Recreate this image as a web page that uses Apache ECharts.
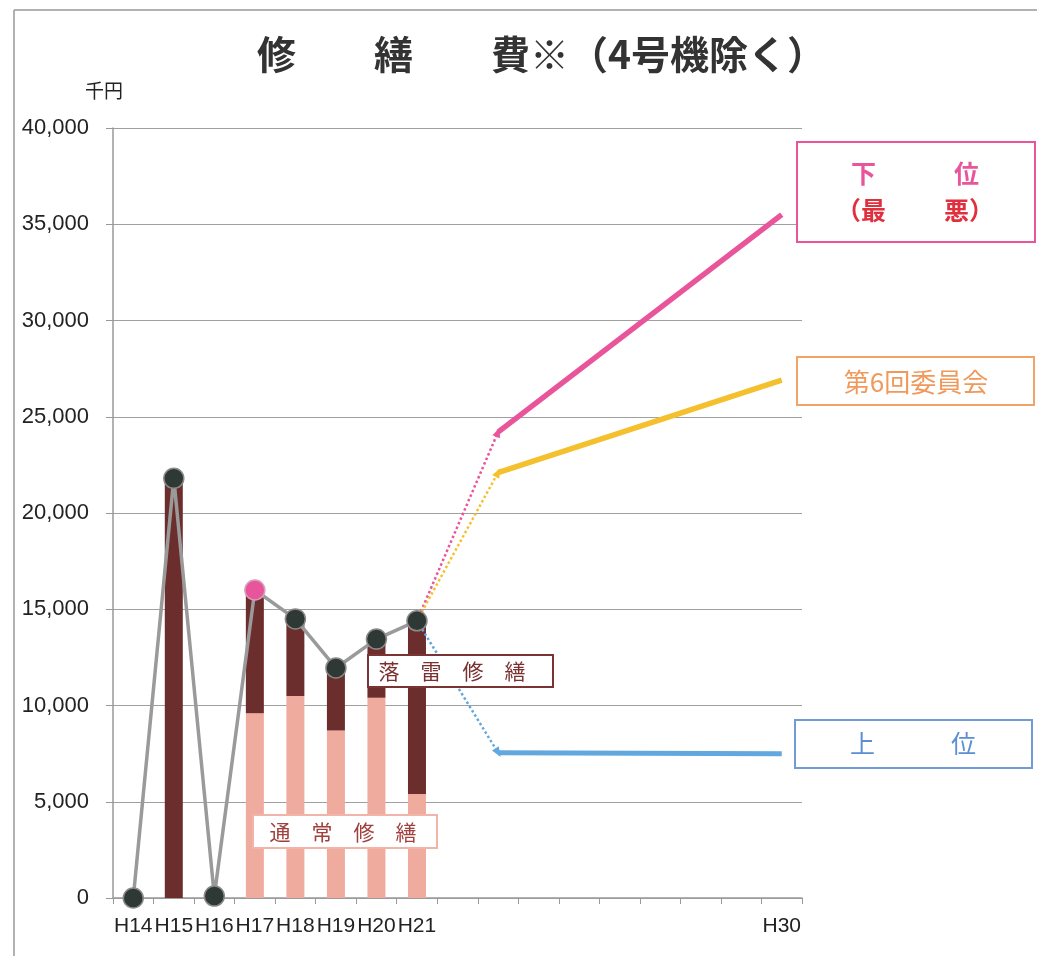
<!DOCTYPE html>
<html><head><meta charset="utf-8">
<script src="https://cdn.jsdelivr.net/npm/echarts@6/dist/echarts.min.js"></script>
<style>html,body{margin:0;padding:0;background:#fff}#c{width:1037px;height:956px}</style>
</head><body><div id="c"></div>
<script>
// categories (fiscal years)
const years = ['H14','H15','H16','H17','H18','H19','H20','H21','H22','H23','H24','H25','H26','H27','H28','H29','H30'];
const shownLabels = ['H14','H15','H16','H17','H18','H19','H20','H21','H30'];
// actual repair cost (thousand yen)
const normalRepair    = [0, 0, 100, 9600, 10500, 8700, 10400, 5400];   // 通常修繕
const lightningRepair = [0, 21800, 0, 6400, 4000, 3250, 3050, 9000];  // 落雷修繕
const totalCost       = [0, 21800, 100, 16000, 14500, 11950, 13450, 14400];
// projections: value at H23 and H30
const lowerCase  = [24200, 35500]; // 下位（最悪）
const committee  = [22100, 26900]; // 第6回委員会
const upperCase  = [7550, 7500];   // 上位

const N = years.length;
function pad(arr){ const a = arr.slice(); while(a.length<N) a.push(null); return a; }
function dottedData(proj, rot){
  const a = new Array(N).fill(null);
  a[7] = totalCost[7];
  a[9] = {value: proj[0], symbol:'triangle', symbolSize:[8,10], symbolRotate: rot};
  return a;
}
function solidData(proj){
  const a = new Array(N).fill(null);
  a[9] = proj[0]; a[16] = proj[1];
  return a;
}
const PINK='#e8559a', YEL='#f4c02e', BLUE='#62a8de';

const chart = echarts.init(document.getElementById('c'));
const totalData = totalCost.map((v,i)=> i===3 ? {value:v, itemStyle:{color:PINK, borderColor:'#d8a0b8'}} : v);

const font = '"Liberation Sans", Arial, sans-serif';
const cjk = '"Noto Sans CJK JP", "Noto Sans", sans-serif';

chart.setOption({
  animation:false,
  backgroundColor:'#fff',
  title:{
    text:'修　　繕　　費※（4号機除く）',
    left:252, top:30,
    textStyle:{fontFamily:cjk, fontSize:39, fontWeight:'bold', color:'#333'}
  },
  grid:{left:113, right:235, top:128, bottom:58},
  xAxis:{
    type:'category', data:years, boundaryGap:true,
    axisLine:{lineStyle:{color:'#999', width:1.5}},
    axisTick:{show:true, length:6, lineStyle:{color:'#999'}},
    axisLabel:{interval:0, margin:18, fontFamily:font, fontSize:21, color:'#222',
      formatter:v=> shownLabels.includes(v) ? v : ''}
  },
  yAxis:{
    type:'value', min:0, max:40000, interval:5000,
    name:'千円', nameLocation:'end', nameGap:28,
    nameTextStyle:{fontFamily:cjk, fontSize:19, color:'#222', align:'right', padding:[0,-10,0,0]},
    axisLine:{show:true, lineStyle:{color:'#999', width:1.5}},
    axisTick:{show:true, length:7, lineStyle:{color:'#999'}},
    splitLine:{lineStyle:{color:'#a0a0a0', width:1.2}},
    axisLabel:{margin:24, fontFamily:font, fontSize:22, color:'#222',
      formatter:v=> v.toLocaleString('en-US')}
  },
  series:[
    {name:'通常修繕', type:'bar', stack:'a', barWidth:18, data:pad(normalRepair),
     itemStyle:{color:'#efab9e'}},
    {name:'落雷修繕', type:'bar', stack:'a', barWidth:18, data:pad(lightningRepair),
     itemStyle:{color:'#6c2d2d'}},
    {name:'合計', type:'line', data:pad(totalCost).map((v,i)=> i<8 ? totalData[i] : null),
     symbol:'circle', symbolSize:20, z:5,
     lineStyle:{color:'#9a9a9a', width:3.5},
     itemStyle:{color:'#2e3936', borderColor:'#8a8a8a', borderWidth:1.5}},
    {type:'line', data:dottedData(lowerCase,-22), connectNulls:true, symbol:'triangle', symbolSize:0, z:4,
     lineStyle:{color:PINK, width:2.5, type:'dotted'}, itemStyle:{color:PINK}},
    {type:'line', data:dottedData(committee,-28), connectNulls:true, symbol:'triangle', symbolSize:0, z:4,
     lineStyle:{color:YEL, width:2.5, type:'dotted'}, itemStyle:{color:YEL}},
    {type:'line', data:dottedData(upperCase,-148), connectNulls:true, symbol:'triangle', symbolSize:0, z:4,
     lineStyle:{color:BLUE, width:2.5, type:'dotted'}, itemStyle:{color:BLUE}},
    {type:'line', data:solidData(lowerCase), connectNulls:true, symbol:'none', z:4,
     lineStyle:{color:PINK, width:5.5}},
    {type:'line', data:solidData(committee), connectNulls:true, symbol:'none', z:4,
     lineStyle:{color:YEL, width:5.5}},
    {type:'line', data:solidData(upperCase), connectNulls:true, symbol:'none', z:4,
     lineStyle:{color:BLUE, width:5}}
  ],
  graphic:[
    {type:'line', shape:{x1:14,y1:10,x2:1037,y2:10}, style:{stroke:'#999', lineWidth:1.5}, z:1},
    {type:'line', shape:{x1:14,y1:10,x2:14,y2:956}, style:{stroke:'#999', lineWidth:1.5}, z:1},
    // 下位（最悪）
    {type:'rect', shape:{x:797,y:142,width:238,height:100}, style:{fill:'#fff', stroke:PINK, lineWidth:2}, z:100},
    {type:'text', x:851, y:161, style:{text:'下', fill:PINK, font:'bold 25px '+cjk}, z:101},
    {type:'text', x:954, y:161, style:{text:'位', fill:PINK, font:'bold 25px '+cjk}, z:101},
    {type:'text', x:836, y:198, style:{text:'（最', fill:'#e0303e', font:'bold 25px '+cjk}, z:101},
    {type:'text', x:944, y:198, style:{text:'悪）', fill:'#e0303e', font:'bold 25px '+cjk}, z:101},
    // 第6回委員会
    {type:'rect', shape:{x:797,y:357,width:237,height:48}, style:{fill:'#fff', stroke:'#f0a468', lineWidth:2}, z:100},
    {type:'text', x:916, y:382, style:{text:'第6回委員会', fill:'#ef9a5c', font:'26px '+cjk, textAlign:'center', textVerticalAlign:'middle'}, z:101},
    // 上位
    {type:'rect', shape:{x:795,y:720,width:237,height:48}, style:{fill:'#fff', stroke:'#6f9bd6', lineWidth:2}, z:100},
    {type:'text', x:850, y:731, style:{text:'上', fill:'#5b8fd2', font:'25px '+cjk}, z:101},
    {type:'text', x:951, y:731, style:{text:'位', fill:'#5b8fd2', font:'25px '+cjk}, z:101},
    // 落雷修繕
    {type:'rect', shape:{x:368,y:655,width:185,height:32}, style:{fill:'#fff', stroke:'#7a3434', lineWidth:2}, z:100},
    {type:'text', x:452, y:671, style:{text:'落　雷　修　繕', fill:'#7a3030', font:'21px '+cjk, textAlign:'center', textVerticalAlign:'middle'}, z:101},
    // 通常修繕
    {type:'rect', shape:{x:253,y:815,width:184,height:33}, style:{fill:'#fff', stroke:'#f2b4a8', lineWidth:2}, z:100},
    {type:'text', x:343, y:832, style:{text:'通　常　修　繕', fill:'#a0403c', font:'21px '+cjk, textAlign:'center', textVerticalAlign:'middle'}, z:101}
  ]
});
</script></body></html>
